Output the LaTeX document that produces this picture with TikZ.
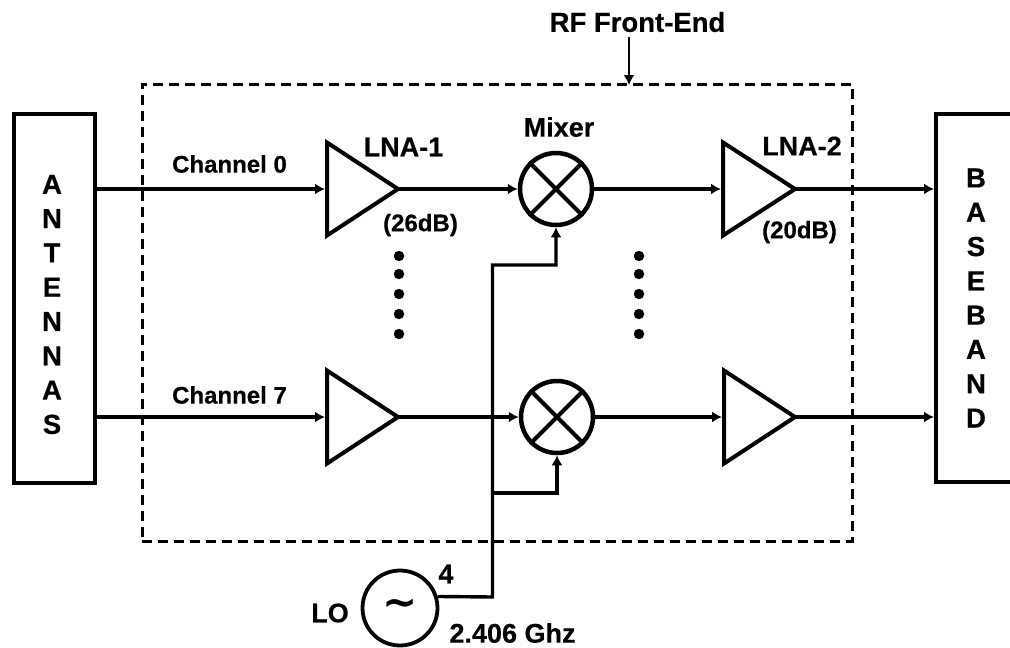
\documentclass[tikz,border=0pt]{standalone}
\usepackage{fontspec}
\setmainfont[BoldFeatures={FakeBold=0.5}]{Liberation Sans}
\newfontfamily\symf{DejaVu Sans}
\usetikzlibrary{arrows.meta,calc}
\tikzset{
 box/.style={draw=black,line width=4pt,inner sep=0pt},
 wire/.style={line width=3.4pt,draw=black,line join=miter},
 arr/.style={wire,-{Latex[length=10pt,width=11pt]}},
 amp/.style={draw=black,line width=4pt,line join=miter},
 lab/.style={font=\bfseries\fontsize{24pt}{28pt}\selectfont,inner sep=0pt},
 big/.style={font=\bfseries\fontsize{27pt}{30pt}\selectfont,inner sep=0pt},
 stack/.style={font=\bfseries\fontsize{27.5pt}{34.3pt}\selectfont,inner sep=0pt,align=center},
 dotn/.style={circle,fill=black,inner sep=0pt,minimum size=10.5pt},
 mix/.style={circle,draw=black,line width=4.5pt,minimum size=72pt,inner sep=0pt},
 cross/.style={line width=4pt},
}
\newcommand{\ampl}[4]{% name, left x, tip x, y
 \coordinate (#1) at (#3pt,-#4pt);
 \coordinate (#1in) at (#2pt,-#4pt);
 \draw[amp] ($(#1in)+(2pt,46.5pt)$) -- (#1) -- ($(#1in)+(2pt,-46.5pt)$) -- cycle;
}
\begin{document}
\begin{tikzpicture}[x=1pt,y=1pt]
\useasboundingbox (0,0) rectangle (1010,-648);
\fill[white] (0,0) rectangle (1010,-648);
% dashed box
\node[draw=black,line width=3pt,dash pattern=on 10pt off 6pt,minimum width=710pt,minimum height=457pt,inner sep=0pt] (fe) at (497,-312.5) {};
% side boxes
\node[box,minimum width=81pt,minimum height=369pt] (ant) at (54.5,-298.5) {};
\node[box,minimum width=84pt,minimum height=368pt] (bb) at (978,-298) {};
\node[stack] (antl) at (52,-304.5) {A\\N\\T\\E\\N\\N\\A\\S};
\node[stack] (bbl) at (976,-298) {B\\A\\S\\E\\B\\A\\N\\D};
% mixers
\node[mix] (m0) at (556,-189) {};
\node[mix] (m7) at (557,-417) {};
\foreach \m in {m0,m7}{
 \draw[cross] (\m.45) -- (\m.225);
 \draw[cross] (\m.135) -- (\m.315);
}
% amplifiers
\ampl{a}{325}{398}{189}
\ampl{b}{721}{795}{189}
\ampl{c}{325}{398}{417}
\ampl{d}{722}{795}{417}
\draw[arr] (ant.east |- ain) -- (ain);
\draw[arr] (ant.east |- cin) -- (cin);
\draw[arr] (a) -- (m0.west);
\draw[arr] (c) -- (m7.west);
\draw[arr] (m0.east) -- (bin);
\draw[arr] (m7.east) -- (din);
\draw[arr] (b) -- (bb.west |- b);
\draw[arr] (d) -- (bb.west |- d);
% RF label
\node[big,font=\bfseries\fontsize{27.5pt}{30pt}\selectfont] (rf) at (637.5,-22) {RF Front-End};
\coordinate (feTop) at (629,-85);
\draw[line width=2.2pt,-{Latex[length=10pt,width=11pt]}] (629,-37) -- (feTop);
% LO
\node[circle,draw=black,line width=3.8pt,minimum size=75pt,inner sep=0pt] (lo) at (400,-608) {};
\node[font=\symf\bfseries\fontsize{42pt}{42pt}\selectfont,inner sep=0pt] (tilde) at (400,-608) {\char"223C};
\coordinate (up) at (492.5,-597);
\coordinate (top) at (492.5,-265);
\coordinate (br) at (492.5,-493);
\draw[arr] (lo.17) -- (up) -- (top) -- (top -| m0) -- (m0.south);
\draw[arr] (br) -- (br -| m7) -- (m7.south);
% dots
\foreach \y in {256,274,294,314,334} \node[dotn] at (399,-\y) {};
\foreach \y in {256,274,294,314,334} \node[dotn] at (639,-\y) {};
% labels
\node[lab] (ch0) at (229.5,-164) {Channel 0};
\node[lab] (ch7) at (229.5,-395) {Channel 7};
\node[big] (l1) at (403.5,-147) {LNA-1};
\node[big] (mx) at (559,-127) {Mixer};
\node[big] (l2) at (802,-146) {LNA-2};
\node[lab] (g1) at (420.5,-225) {(26dB)};
\node[lab] (g2) at (799.5,-232) {(20dB)};
\node[big] (lol) at (330,-613) {LO};
\node[big] (four) at (446,-574) {4};
\node[big] (ghz) at (512.5,-633) {2.406 Ghz};
\end{tikzpicture}
\end{document}
